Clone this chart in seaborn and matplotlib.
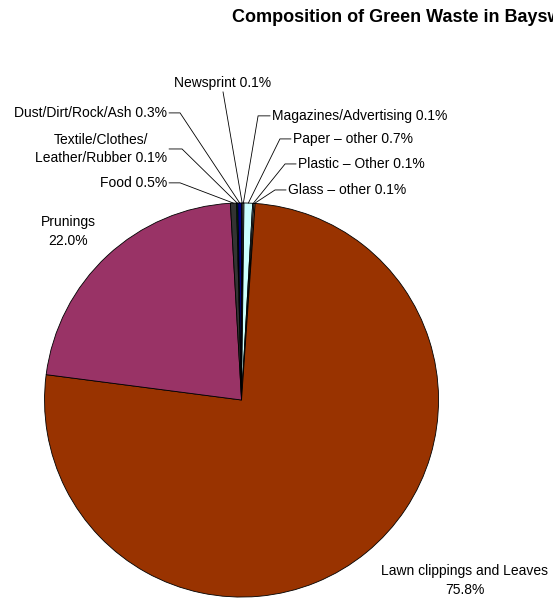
import numpy as np
import seaborn as sns
import matplotlib.pyplot as plt

# slice data, clockwise from 12 o'clock
names = ['Newsprint', 'Magazines/Advertising', 'Paper \u2013 other', 'Plastic \u2013 Other',
         'Glass \u2013 other', 'Lawn clippings and Leaves', 'Prunings', 'Food',
         'Textile/Clothes/\nLeather/Rubber', 'Dust/Dirt/Rock/Ash']
shares = [0.1, 0.1, 0.7, 0.1, 0.1, 75.8, 22.0, 0.5, 0.1, 0.3]
colors = ['#FFFFCC', '#FFFFFF', '#CCFFFF', '#99CCFF', '#FFCC99',
          '#993300', '#993366', '#333333', '#008000', '#000080']

sns.set_theme(style='white')
plt.rcParams['font.family'] = ['Liberation Sans', 'DejaVu Sans']

fig = plt.figure(figsize=(5.53, 6.01), dpi=100)
ax = fig.add_axes([0, 0, 1, 1])
wedges, _ = ax.pie(shares, colors=sns.color_palette(colors), startangle=90, counterclock=False,
                   wedgeprops=dict(edgecolor='black', linewidth=0.6))
ax.set_xlim(-1.226, 1.581)
ax.set_ylim(-1.020, 2.030)
ax.set_aspect('auto')
ax.axis('off')

# label placement for the small slices: (text x, text y, elbow x, ha)
place = {
    0: (-0.094, 1.609, None, 'center'),
    1: (0.155, 1.442, 0.084, 'left'),
    2: (0.261, 1.325, 0.195, 'left'),
    3: (0.287, 1.198, 0.221, 'left'),
    4: (0.236, 1.066, 0.170, 'left'),
    7: (-0.378, 1.102, -0.312, 'right'),
    8: (-0.378, 1.274, -0.302, 'right'),
    9: (-0.378, 1.457, -0.312, 'right'),
}

fs = 10
for i, (tx, ty, ex, ha) in place.items():
    w = wedges[i]
    ang = np.deg2rad((w.theta1 + w.theta2) / 2)
    px, py = np.cos(ang), np.sin(ang)
    txt = f'{names[i]} {shares[i]:.1f}%'
    if ex is None:
        ax.plot([tx, px], [ty - 0.045, py], color='black', lw=0.6)
        ax.text(tx, ty, txt, ha='center', va='center', fontsize=fs, color='black')
    else:
        ax.plot([tx + (0.01 if ha == 'right' else -0.01), ex, px], [ty, ty, py], color='black', lw=0.6)
        ax.text(tx, ty, txt, ha=ha, va='center', fontsize=fs, color='black',
                multialignment='center', linespacing=1.4)

ax.text(-0.881, 0.855, f'{names[6]}\n{shares[6]:.1f}%', ha='center', va='center',
        fontsize=fs, color='black', linespacing=1.4)
ax.text(1.134, -0.915, f'{names[5]}\n{shares[5]:.1f}%', ha='center', va='center',
        fontsize=fs, color='black', linespacing=1.4)

fig.text(232 / 553, 1 - 18 / 601, 'Composition of Green Waste in Bayswater',
         ha='left', va='center', fontsize=13, fontweight='bold', color='black')

fig.savefig('out.png', dpi=100)
